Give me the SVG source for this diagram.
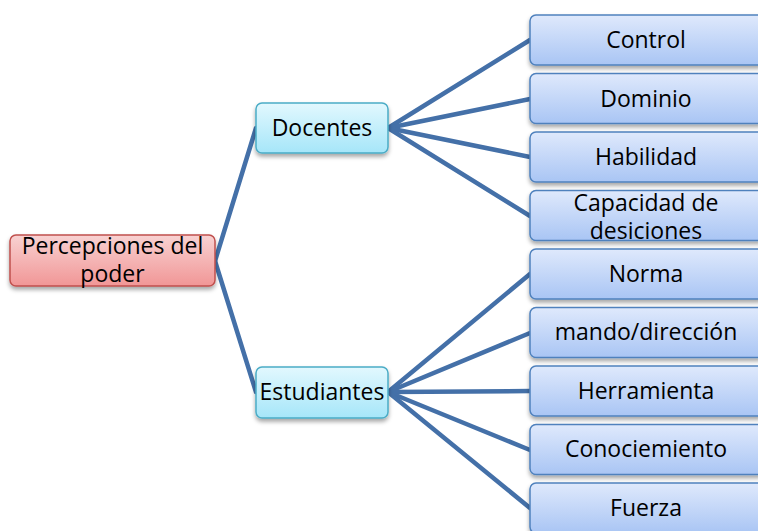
<svg xmlns="http://www.w3.org/2000/svg" width="758" height="531" viewBox="0 0 758 531">
<defs>
<linearGradient id="gRed" x1="0" y1="0" x2="0" y2="1"><stop offset="0" stop-color="#f8d2d2"/><stop offset="1" stop-color="#f19696"/></linearGradient>
<linearGradient id="gCyan" x1="0" y1="0" x2="0" y2="1"><stop offset="0" stop-color="#e2f8fe"/><stop offset="1" stop-color="#a6e6f9"/></linearGradient>
<linearGradient id="gBlue" x1="0" y1="0" x2="0" y2="1"><stop offset="0" stop-color="#dfe9fc"/><stop offset="1" stop-color="#a9c5f4"/></linearGradient>
<filter id="sh" x="-10%" y="-20%" width="130%" height="150%"><feDropShadow dx="0" dy="3" stdDeviation="2" flood-color="#000" flood-opacity="0.35"/></filter>
<style>
.t{font-family:"Open Sans","Noto Sans","Liberation Sans",sans-serif;font-size:23px;fill:#000;text-anchor:middle}
.red{fill:url(#gRed);stroke:#c0504d;stroke-width:1.5}
.cyan{fill:url(#gCyan);stroke:#4bacc6;stroke-width:1.5}
.blue{fill:url(#gBlue);stroke:#4f81bd;stroke-width:1.5}
.c{stroke:#4470a8;stroke-width:4.5;fill:none;stroke-linecap:round}
</style>
</defs>
<rect width="758" height="531" fill="#fff"/>
<g id="connectors">
<line class="c" x1="215" y1="261" x2="256" y2="128"/>
<line class="c" x1="215" y1="261" x2="256" y2="392"/>
<line class="c" x1="388" y1="128" x2="530" y2="40"/>
<line class="c" x1="388" y1="128" x2="530" y2="99"/>
<line class="c" x1="388" y1="128" x2="530" y2="157"/>
<line class="c" x1="388" y1="128" x2="530" y2="216"/>
<line class="c" x1="388" y1="392" x2="530" y2="274"/>
<line class="c" x1="388" y1="392" x2="530" y2="333"/>
<line class="c" x1="388" y1="392" x2="530" y2="391"/>
<line class="c" x1="388" y1="392" x2="530" y2="450"/>
<line class="c" x1="388" y1="392" x2="530" y2="508"/>
</g>
<g id="root"><rect class="red" filter="url(#sh)" x="10" y="235" width="205" height="51" rx="6"/><text class="t" x="112.5" y="254">Percepciones del</text><text class="t" x="112.5" y="282">poder</text></g>
<g id="docentes"><rect class="cyan" filter="url(#sh)" x="256" y="103" width="132" height="50" rx="6"/><text class="t" x="322" y="136">Docentes</text></g>
<g id="estudiantes"><rect class="cyan" filter="url(#sh)" x="256" y="367" width="132" height="51" rx="6"/><text class="t" x="322" y="400">Estudiantes</text></g>
<g id="control"><rect class="blue" filter="url(#sh)" x="530" y="15" width="234" height="50" rx="6"/><text class="t" x="646" y="48">Control</text></g>
<g id="dominio"><rect class="blue" filter="url(#sh)" x="530" y="73.5" width="234" height="50" rx="6"/><text class="t" x="646" y="107">Dominio</text></g>
<g id="habilidad"><rect class="blue" filter="url(#sh)" x="530" y="132" width="234" height="50" rx="6"/><text class="t" x="646" y="165">Habilidad</text></g>
<g id="capacidad"><rect class="blue" filter="url(#sh)" x="530" y="190.5" width="234" height="50" rx="6"/><text class="t" x="646" y="211">Capacidad de</text><text class="t" x="646" y="239">desiciones</text></g>
<g id="norma"><rect class="blue" filter="url(#sh)" x="530" y="249" width="234" height="50" rx="6"/><text class="t" x="646" y="282">Norma</text></g>
<g id="mando"><rect class="blue" filter="url(#sh)" x="530" y="307.5" width="234" height="50" rx="6"/><text class="t" x="646" y="340">mando/dirección</text></g>
<g id="herramienta"><rect class="blue" filter="url(#sh)" x="530" y="366" width="234" height="50" rx="6"/><text class="t" x="646" y="399">Herramienta</text></g>
<g id="conocimiento"><rect class="blue" filter="url(#sh)" x="530" y="424.5" width="234" height="50" rx="6"/><text class="t" x="646" y="457">Conociemiento</text></g>
<g id="fuerza"><rect class="blue" filter="url(#sh)" x="530" y="483" width="234" height="50" rx="6"/><text class="t" x="646" y="516">Fuerza</text></g>
</svg>
